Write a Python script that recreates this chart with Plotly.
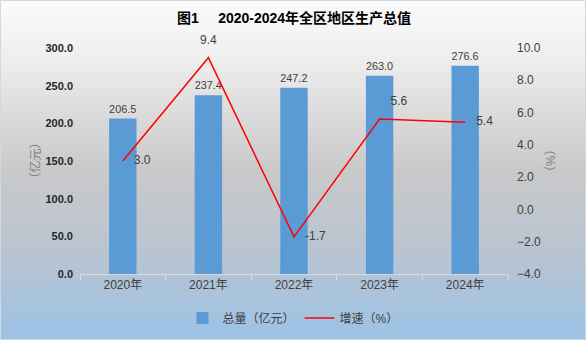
import plotly.graph_objects as go

categories = ["2020年", "2021年", "2022年", "2023年", "2024年"]
total_values = [206.5, 237.4, 247.2, 263.0, 276.6]
growth_values = [3.0, 9.4, -1.7, 5.6, 5.4]
title_text = "图1\u00a0\u00a0\u00a0\u00a0\u00a02020-2024年全区地区生产总值"
bar_name = "总量（亿元）"
line_name = "增速（%）"
left_title = "（亿元）"
right_title = "（%）"

W, H = 586, 340
ML, MR, MT, MB = 80, 78, 48, 66
PW, PH = W - ML - MR, H - MT - MB

FONT = "Liberation Sans, Arial, Noto Sans CJK SC"

fig = go.Figure()
fig.add_trace(go.Bar(
    x=categories, y=total_values, name=bar_name,
    marker=dict(color="#5b9bd5", line=dict(width=0)),
    text=[f"{v:.1f}" for v in total_values], textposition="outside",
    textfont=dict(size=12, color="#404040", family=FONT),
    cliponaxis=False, yaxis="y",
))
fig.add_trace(go.Scatter(
    x=categories, y=growth_values, name=line_name, mode="lines+markers+text",
    line=dict(color="#ff0000", width=1.5),
    marker=dict(size=16, color="rgba(0,0,0,0)", line=dict(width=0)),
    text=[f"{v:.1f}" for v in growth_values],
    textposition=["middle right", "top center", "middle right", "top right", "middle right"],
    textfont=dict(size=12, color="#404040", family=FONT),
    cliponaxis=False, yaxis="y2",
))

# background gradient bands
stops = [(0.0, (251, 251, 252)), (0.15, (240, 240, 241)), (0.5, (201, 201, 201)),
         (0.75, (184, 196, 210)), (1.0, (155, 194, 230))]
def col(t):
    for i in range(len(stops) - 1):
        t0, c0 = stops[i]
        t1, c1 = stops[i + 1]
        if t0 <= t <= t1:
            f = (t - t0) / (t1 - t0) if t1 > t0 else 0
            return "rgb(%d,%d,%d)" % tuple(round(c0[k] + (c1[k] - c0[k]) * f) for k in range(3))
    return "rgb(%d,%d,%d)" % stops[-1][1]

shapes = []
N = 85
x0p = -ML / PW
x1p = 1 + MR / PW
for i in range(N):
    ytop = i * H / N
    ybot = (i + 1) * H / N + 0.6
    shapes.append(dict(
        type="rect", xref="paper", yref="paper", layer="below",
        x0=x0p, x1=x1p,
        y0=1 + (MT - ybot) / PH, y1=1 + (MT - ytop) / PH,
        fillcolor=col((i + 0.5) / N), line=dict(width=0),
    ))
shapes.append(dict(
    type="rect", xref="paper", yref="paper", layer="below",
    x0=x0p + 0.5 / PW, x1=x1p - 0.5 / PW,
    y0=-MB / PH + 0.5 / PH, y1=1 + MT / PH - 0.5 / PH,
    fillcolor="rgba(0,0,0,0)", line=dict(width=1, color="#d0d8e0"),
))

def px_to_paper(xpx, ypx):
    return (xpx - ML) / PW, 1 - (ypx - MT) / PH

lx, ly = px_to_paper(25, 161)
rx, ry = px_to_paper(560, 161)

fig.update_layout(
    width=W, height=H,
    margin=dict(l=ML, r=MR, t=MT, b=MB),
    paper_bgcolor="rgba(0,0,0,0)", plot_bgcolor="rgba(0,0,0,0)",
    font=dict(family=FONT, size=12, color="#404040"),
    title=dict(text="<b>" + title_text + "</b>", x=0.5, xref="paper", xanchor="center",
               y=1 - 18 / H, yanchor="middle",
               font=dict(size=14, color="#000000", family="Liberation Sans, Noto Sans CJK SC")),
    bargap=0.68,
    showlegend=True,
    legend=dict(orientation="h", x=0.5, xanchor="center", xref="container",
                y=1 - 318 / H, yanchor="middle", yref="container",
                font=dict(size=12, color="#404040"), bgcolor="rgba(0,0,0,0)",
                itemwidth=30, tracegroupgap=0),
    xaxis=dict(
        type="category", showgrid=False, showline=True, linecolor="#d9d9d9", linewidth=1,
        ticks="outside", tickson="boundaries", ticklen=6, tickcolor="#d9d9d9",
        tickfont=dict(size=12, color="#404040"), zeroline=False,
    ),
    yaxis=dict(
        range=[0, 300], dtick=50, tickformat=".1f", showgrid=False, zeroline=False,
        showline=False, tickfont=dict(size=11, color="#262626", family="Liberation Sans", weight="bold"),
        ticks="", ticklabelstandoff=6,
    ),
    yaxis2=dict(
        range=[-4, 10], dtick=2, tickformat=".1f", showgrid=False, zeroline=False,
        showline=False, overlaying="y", side="right",
        tickfont=dict(size=12, color="#404040"), ticks="", ticklabelstandoff=8,
    ),
    shapes=shapes,
    annotations=[
        dict(text=left_title, x=lx, y=ly, xref="paper", yref="paper", showarrow=False,
             textangle=-90, font=dict(size=12, color="#808080")),
        dict(text=right_title, x=rx, y=ry, xref="paper", yref="paper", showarrow=False,
             textangle=-90, font=dict(size=12, color="#808080")),
    ],
)

fig.write_html("out.html")
